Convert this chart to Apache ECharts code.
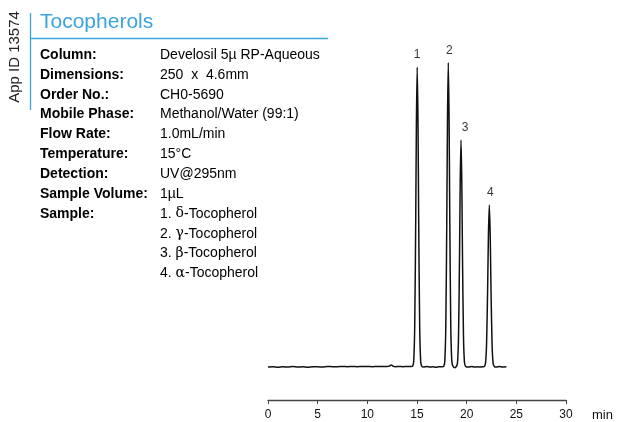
<!DOCTYPE html>
<html>
<head>
<meta charset="utf-8">
<script src="https://cdn.jsdelivr.net/npm/echarts@6/dist/echarts.min.js"></script>
<style>
  html, body { margin: 0; padding: 0; background: #fff; }
  #chart { width: 617px; height: 422px; }
</style>
</head>
<body>
<div id="chart"></div>
<script>
// chromatogram trace: [time (min), detector response]
const trace = [
    [0.0, 0.0], [0.5, 0.1], [1.0, -0.1], [1.5, 0.1], [2.0, 0.0], [2.5, 0.2], [3.0, 0.0],
    [3.5, 0.1], [4.0, -0.1], [4.5, 0.1], [5.0, 0.1], [5.5, 0.0], [6.0, 0.2], [6.5, 0.1],
    [7.0, 0.1], [7.5, 0.2], [8.0, 0.1], [8.5, 0.2], [9.0, 0.1], [9.5, 0.2], [10.0, 0.2],
    [10.5, 0.1], [11.0, 0.2], [11.5, 0.2], [12.0, 0.2], [12.2, 0.3], [12.4, 0.7], [12.6, 0.3],
    [12.8, 0.1], [13.2, 0.2], [13.6, 0.1], [14.0, 0.2], [14.4, 0.2],
    // peak 1
    [14.57, 0.3], [14.67, 2.0], [14.77, 13.3], [14.87, 47.9], [14.94, 80.1], [15.02, 98.3],
    [15.10, 80.1], [15.17, 47.9], [15.27, 13.3], [15.37, 2.0], [15.47, 0.3],
    [15.7, 0.0], [16.0, 0.2], [16.3, 0.0], [16.6, 0.1], [16.9, -0.1], [17.2, 0.1], [17.5, 0.1],
    // peak 2
    [17.70, 0.3], [17.80, 2.0], [17.90, 13.5], [18.00, 48.6], [18.07, 81.3], [18.15, 99.8],
    [18.23, 81.3], [18.30, 48.6], [18.40, 13.5], [18.50, 2.2], [18.60, 0.4], [18.80, -0.2],
    // peak 3
    [18.98, 0.3], [19.08, 1.5], [19.18, 10.0], [19.28, 36.2], [19.35, 60.6], [19.43, 74.4],
    [19.51, 60.6], [19.58, 36.2], [19.68, 10.0], [19.78, 1.5], [19.90, 0.2],
    [20.2, 0.0], [20.5, 0.2], [20.8, 0.0], [21.1, 0.1], [21.4, 0.0], [21.6, 0.1],
    // peak 4
    [21.78, 0.2], [21.90, 1.3], [22.00, 7.2], [22.11, 25.4], [22.19, 43.2], [22.28, 53.1],
    [22.37, 43.2], [22.45, 25.4], [22.56, 7.2], [22.66, 1.3], [22.78, 0.2],
    [23.0, 0.0], [23.3, 0.2], [23.6, 0.0], [24.0, 0.1]
];

const peakTimes = [15.02, 18.15, 19.43, 22.28];
const peakHeights = [98.3, 99.8, 74.4, 53.1];
const peakLabels = ['1', '2', '3', '4'];

const xTicks = [0, 5, 10, 15, 20, 25, 30];

const title = 'Tocopherols';
const appId = 'App ID 13574';
const infoLabels = ['Column:', 'Dimensions:', 'Order No.:', 'Mobile Phase:', 'Flow Rate:',
    'Temperature:', 'Detection:', 'Sample Volume:', 'Sample:', '', '', ''];
const infoValues = ['Develosil 5\u00b5 RP-Aqueous', '250  x  4.6mm', 'CH0-5690',
    'Methanol/Water (99:1)', '1.0mL/min', '15\u00b0C', 'UV@295nm', '1\u00b5L',
    '1. {g|\u03b4}-Tocopherol', '2. {g|\u03b3}-Tocopherol', '3. {g|\u03b2}-Tocopherol',
    '4. {g|\u03b1}-Tocopherol'];

const blue = '#3ba3dd';
const font = '"Liberation Sans", Arial, Helvetica, sans-serif';

const chart = echarts.init(document.getElementById('chart'));

const graphic = [
    { type: 'line', shape: { x1: 30.5, y1: 13, x2: 30.5, y2: 110 }, style: { stroke: blue, lineWidth: 1.3 } },
    { type: 'line', shape: { x1: 30.5, y1: 38.5, x2: 328, y2: 38.5 }, style: { stroke: blue, lineWidth: 1.3 } },
    {
        type: 'text', x: 40, y: 22,
        style: { text: title, fill: blue, font: '21px ' + font, verticalAlign: 'middle' }
    },
    {
        type: 'text', x: 15, y: 57, rotation: Math.PI / 2,
        style: { text: appId, fill: '#222', font: '15px ' + font, align: 'center', verticalAlign: 'middle' }
    }
];

infoLabels.forEach((lab, i) => {
    const y = 55 + 19.85 * i;
    if (lab) {
        graphic.push({
            type: 'text', x: 40, y: y,
            style: { text: lab, fill: '#000', font: 'bold 14px ' + font, verticalAlign: 'middle' }
        });
    }
    graphic.push({
        type: 'text', x: 160, y: y,
        style: {
            text: infoValues[i], fill: '#000', font: '14px ' + font, verticalAlign: 'middle',
            rich: { g: { fontFamily: '"DejaVu Serif", serif', fontSize: 14, fill: '#000' } }
        }
    });
});

const labelOffsets = [[0, 0], [1, 0], [4, 0], [1, 0]];

const option = {
    animation: false,
    grid: { left: 268, right: 51, top: 62, bottom: 22 },
    xAxis: {
        type: 'value',
        min: 0,
        max: 30,
        interval: 5,
        name: 'min',
        nameLocation: 'end',
        nameGap: 26,
        nameTextStyle: { color: '#111', fontSize: 13, fontFamily: font, verticalAlign: 'top', padding: [9, 0, 0, 0] },
        axisLine: { onZero: false, lineStyle: { color: '#444', width: 1.3 } },
        axisTick: { length: 4, lineStyle: { color: '#444' } },
        axisLabel: {
            color: '#111', fontSize: 12, fontFamily: font, margin: 9,
            formatter: v => xTicks.includes(v) ? String(v) : ''
        },
        splitLine: { show: false }
    },
    yAxis: { type: 'value', min: -10.8, max: 100, show: false },
    series: [
        {
            type: 'line',
            data: trace,
            showSymbol: false,
            smooth: 0.25,
            lineStyle: { color: '#111', width: 1.5 }
        },
        {
            type: 'scatter',
            symbolSize: 0,
            data: peakTimes.map((t, i) => ({
                value: [t, peakHeights[i]],
                label: { offset: labelOffsets[i] }
            })),
            label: {
                show: true,
                position: 'top',
                distance: 6,
                color: '#000',
                fontSize: 12,
                fontFamily: font,
                formatter: p => peakLabels[p.dataIndex]
            },
            silent: true
        }
    ],
    graphic: graphic
};

chart.setOption(option);
</script>
</body>
</html>
